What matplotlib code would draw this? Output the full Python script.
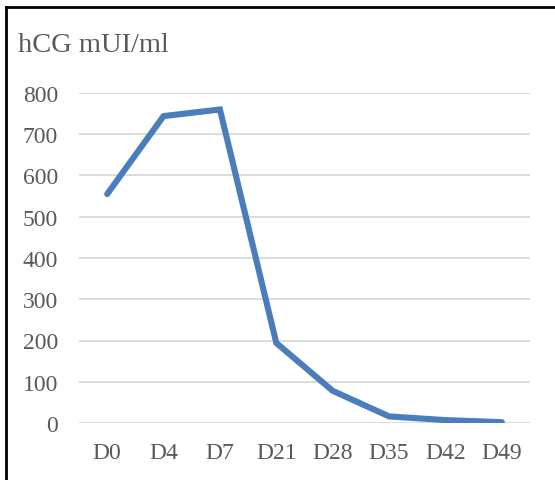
import matplotlib
matplotlib.use("Agg")
import matplotlib.pyplot as plt
from matplotlib.lines import Line2D

# data
days = ["D0", "D4", "D7", "D21", "D28", "D35", "D42", "D49"]
hcg = [555, 744, 760, 194, 78, 16, 7, 2]
y_ticks = [0, 100, 200, 300, 400, 500, 600, 700, 800]

plt.rcParams['font.family'] = ['Liberation Serif', 'DejaVu Serif']
TEXT = '#595959'

fig = plt.figure(figsize=(5.55, 4.81), dpi=100)
W, H = 555, 481
ax = fig.add_axes([79 / W, 57 / H, (530 - 79) / W, (424 - 94) / H])

x = list(range(len(days)))
ax.plot(x, hcg, color='#4a7ebb', linewidth=4.4, solid_capstyle='round',
        solid_joinstyle='miter', zorder=3)

ax.set_xlim(-0.5, len(days) - 0.5)
ax.set_ylim(0, 800)
ax.set_yticks(y_ticks)
ax.set_xticks(x)
ax.set_xticklabels(days)
ax.grid(axis='y', color='#d9d9d9', linewidth=1.3)
ax.set_axisbelow(True)
for s in ax.spines.values():
    s.set_visible(False)
ax.tick_params(length=0, labelsize=17, colors=TEXT)
ax.tick_params(axis='y', pad=15)
ax.tick_params(axis='x', pad=13.5)

fig.text(18 / W, 1 - 52 / H, "hCG mUI/ml", fontsize=20.5, color=TEXT)

# outer frame (left and top edges visible)
fig.add_artist(Line2D([5.5 / W, 5.5 / W], [0, 1 - 8 / H], color='black', linewidth=2,
                      transform=fig.transFigure))
fig.add_artist(Line2D([5.5 / W, 1], [1 - 8 / H, 1 - 8 / H], color='black', linewidth=2,
                      transform=fig.transFigure))

fig.savefig("out.png", dpi=100)
